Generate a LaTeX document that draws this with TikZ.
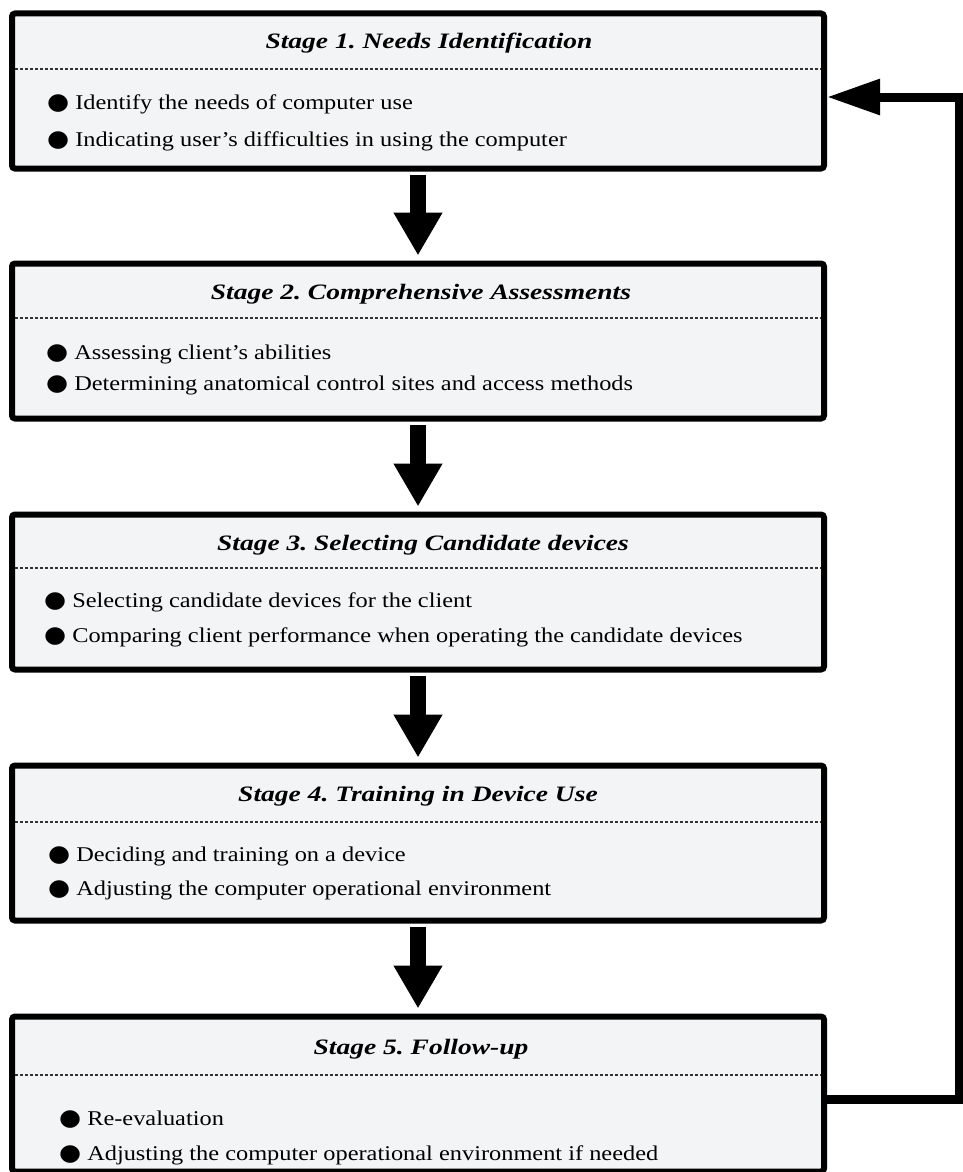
\documentclass[tikz,border=0pt]{standalone}
\usepackage{fontspec}
\setmainfont{Liberation Serif}
\newfontfamily\titlefont[FakeStretch=1.25,Ligatures=TeX]{Liberation Serif}
\newfontfamily\itemfont[FakeStretch=1.16,Ligatures=TeX]{Liberation Serif}
\newfontfamily\symfont[FakeStretch=1.1]{DejaVu Sans}
\usetikzlibrary{arrows.meta}
\definecolor{boxfill}{HTML}{F3F4F5}
\frenchspacing
\newcommand{\blt}{{\symfont\fontsize{23}{23}\selectfont ●}\hspace{6pt}}
\tikzset{
  stagebox/.style={draw=black, line width=6pt, fill=boxfill, rounded corners=3pt,
    minimum width=812pt, minimum height=155pt, inner sep=0pt},
  stagetitle/.style={font=\titlefont\fontsize{22}{24}\selectfont\bfseries\itshape, inner sep=0pt, anchor=mid},
  stageitem/.style={font=\itemfont\fontsize{21}{23}\selectfont, anchor=mid west, inner sep=0pt},
  sepline/.style={draw=black!80, line width=1.2pt, dash pattern=on 3pt off 2pt},
  flow/.style={line width=16pt, -{Triangle[length=43pt,width=46pt]}, shorten <=3pt, shorten >=5pt},
  back/.style={line width=9pt, -{Triangle[length=53pt,width=34pt]}}
}
\begin{document}
\begin{tikzpicture}[x=1pt,y=-1pt]
\useasboundingbox (0,0) rectangle (963,1172);
% boxes
\node[stagebox] (b1) at (418,91) {};
\node[stagebox] (b2) at (418,341) {};
\node[stagebox] (b3) at (418,592) {};
\node[stagebox] (b4) at (418,843) {};
\node[stagebox] (b5) at (418,1094) {};
% titles
\node[stagetitle] (t1) at (429,46) {Stage 1. Needs Identification};
\node[stagetitle] (t2) at (421,297) {Stage 2. Comprehensive Assessments};
\node[stagetitle] (t3) at (423,548) {Stage 3. Selecting Candidate devices};
\node[stagetitle] (t4) at (418,799) {Stage 4. Training in Device Use};
\node[stagetitle] (t5) at (421,1052) {Stage 5. Follow-up};
% separators
\coordinate (s1a) at (15,69);   \coordinate (s1b) at (821,69);
\coordinate (s2a) at (15,318);  \coordinate (s2b) at (821,318);
\coordinate (s3a) at (15,568);  \coordinate (s3b) at (821,568);
\coordinate (s4a) at (15,822);  \coordinate (s4b) at (821,822);
\coordinate (s5a) at (15,1075); \coordinate (s5b) at (821,1075);
\draw[sepline] (s1a) -- (s1b);
\draw[sepline] (s2a) -- (s2b);
\draw[sepline] (s3a) -- (s3b);
\draw[sepline] (s4a) -- (s4b);
\draw[sepline] (s5a) -- (s5b);
% items
\node[stageitem] (i11) at (47,107) {\blt Identify the needs of computer use};
\node[stageitem] (i12) at (47,144) {\blt Indicating user’s difficulties in using the computer};
\node[stageitem] (i21) at (46,357) {\blt Assessing client’s abilities};
\node[stageitem] (i22) at (46,388) {\blt Determining anatomical control sites and access methods};
\node[stageitem] (i31) at (44,605) {\blt Selecting candidate devices for the client};
\node[stageitem] (i32) at (44,640) {\blt Comparing client performance when operating the candidate devices};
\node[stageitem] (i41) at (48,859) {\blt Deciding and training on a device};
\node[stageitem] (i42) at (48,893) {\blt Adjusting the computer operational environment};
\node[stageitem] (i51) at (59,1123) {\blt Re-evaluation};
\node[stageitem] (i52) at (59,1158) {\blt Adjusting the computer operational environment if needed};
% flow arrows
\draw[flow] (b1.south) -- (b2.north);
\draw[flow] (b2.south) -- (b3.north);
\draw[flow] (b3.south) -- (b4.north);
\draw[flow] (b4.south) -- (b5.north);
% feedback
\coordinate (fb) at (959,600);
\draw[back] ([yshift=-5pt]b5.east) -| (fb) |- ([yshift=-6pt]b1.east);
\end{tikzpicture}
\end{document}
